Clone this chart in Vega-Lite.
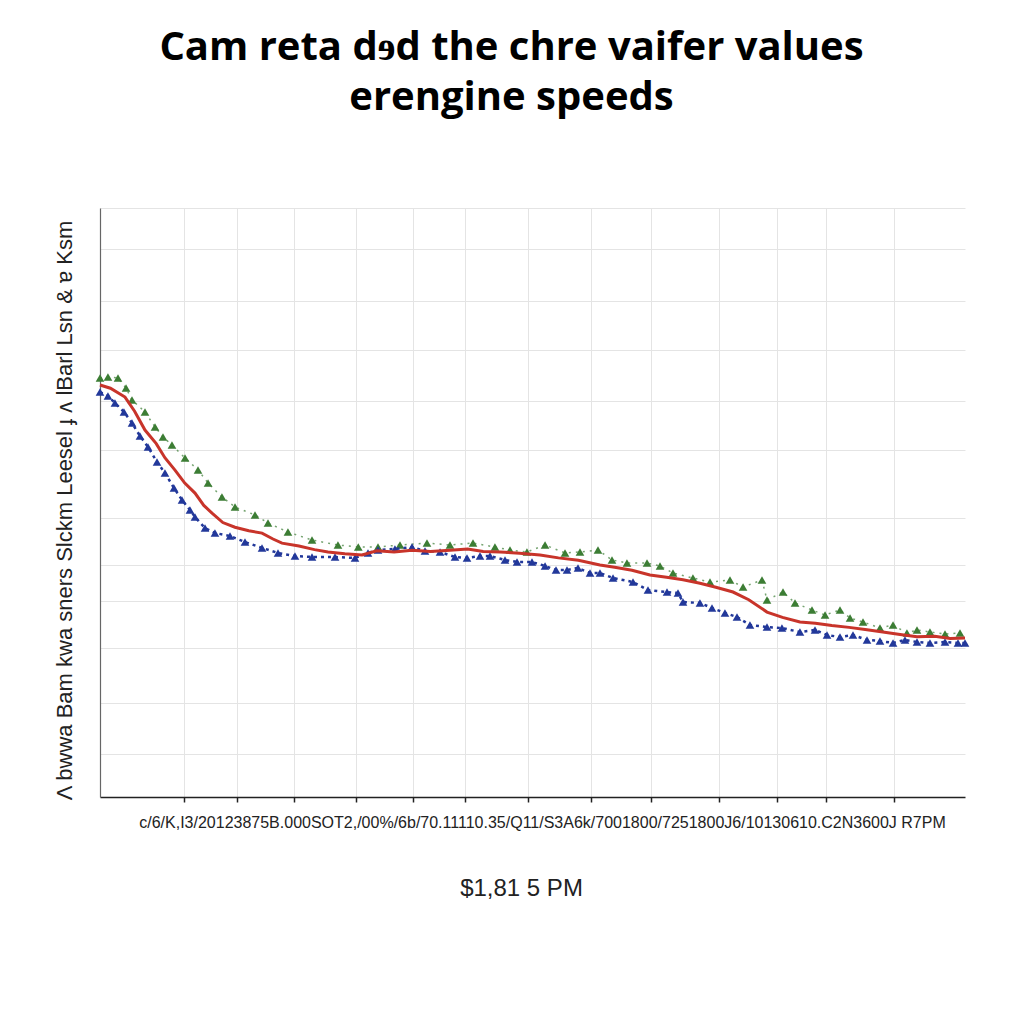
{
  "$schema": "https://vega.github.io/schema/vega-lite/v6.json",
  "width": 865,
  "height": 589,
  "autosize": {"type": "none"},
  "padding": {"left": 100, "top": 208, "right": 59, "bottom": 227},
  "background": "white",
  "title": {
    "text": ["Cam reta dɘd the chre vaifer values", "erengine speeds"],
    "font": "Open Sans",
    "fontWeight": "bold",
    "fontSize": 40,
    "lineHeight": 50,
    "color": "black",
    "anchor": "middle",
    "dx": -21,
    "offset": 89
  },
  "config": {
    "view": {"stroke": null},
    "axis": {"gridColor": "#e4e4e4", "gridWidth": 1}
  },
  "datasets": {
    "red": [
      {"rpm": 0, "v": 69.95}, {"rpm": 1.2, "v": 69.4}, {"rpm": 2.89, "v": 67.9}, {"rpm": 4.0, "v": 65.5}, {"rpm": 5.2, "v": 62.3},
      {"rpm": 6.5, "v": 60.0}, {"rpm": 7.5, "v": 57.6}, {"rpm": 8.67, "v": 55.5}, {"rpm": 9.8, "v": 53.3}, {"rpm": 10.98, "v": 51.6},
      {"rpm": 12.0, "v": 49.5}, {"rpm": 12.95, "v": 48.2}, {"rpm": 14.2, "v": 46.6}, {"rpm": 15.6, "v": 45.8}, {"rpm": 17.2, "v": 45.2},
      {"rpm": 18.73, "v": 44.8}, {"rpm": 20.0, "v": 43.8}, {"rpm": 21.04, "v": 43.1}, {"rpm": 23.0, "v": 42.6}, {"rpm": 24.8, "v": 42.0},
      {"rpm": 26.36, "v": 41.6}, {"rpm": 28.3, "v": 41.3}, {"rpm": 30.29, "v": 41.1}, {"rpm": 32.0, "v": 41.8}, {"rpm": 34.0, "v": 41.6},
      {"rpm": 36.07, "v": 41.9}, {"rpm": 38.2, "v": 41.7}, {"rpm": 40.46, "v": 41.9}, {"rpm": 42.5, "v": 42.1}, {"rpm": 44.3, "v": 41.7},
      {"rpm": 46.24, "v": 41.6}, {"rpm": 48.5, "v": 41.4}, {"rpm": 50.87, "v": 41.1}, {"rpm": 53.0, "v": 40.6}, {"rpm": 55.3, "v": 40.2},
      {"rpm": 57.8, "v": 39.4}, {"rpm": 59.5, "v": 39.0}, {"rpm": 61.5, "v": 38.5}, {"rpm": 63.58, "v": 37.7}, {"rpm": 65.5, "v": 37.3},
      {"rpm": 67.4, "v": 36.9}, {"rpm": 69.36, "v": 36.3}, {"rpm": 71.2, "v": 35.6}, {"rpm": 73.18, "v": 34.8}, {"rpm": 75.0, "v": 33.5},
      {"rpm": 77.11, "v": 31.4}, {"rpm": 78.9, "v": 30.5}, {"rpm": 80.92, "v": 29.7}, {"rpm": 82.7, "v": 29.5}, {"rpm": 84.6, "v": 29.1},
      {"rpm": 86.6, "v": 28.8}, {"rpm": 88.67, "v": 28.4}, {"rpm": 90.5, "v": 28.0}, {"rpm": 92.5, "v": 27.6}, {"rpm": 94.45, "v": 27.2},
      {"rpm": 96.5, "v": 27.3}, {"rpm": 98.3, "v": 26.9}, {"rpm": 100, "v": 27.0}
    ],
    "blue": [
      {"rpm": 0, "v": 68.76}, {"rpm": 0.92, "v": 68.08}, {"rpm": 1.73, "v": 66.89}, {"rpm": 2.77, "v": 65.37}, {"rpm": 3.7, "v": 63.5},
      {"rpm": 4.62, "v": 61.29}, {"rpm": 5.55, "v": 59.42}, {"rpm": 6.59, "v": 56.88}, {"rpm": 7.51, "v": 55.01}, {"rpm": 8.55, "v": 52.46},
      {"rpm": 9.48, "v": 50.42}, {"rpm": 10.4, "v": 48.73}, {"rpm": 10.98, "v": 47.54}, {"rpm": 12.14, "v": 45.67}, {"rpm": 13.29, "v": 44.82},
      {"rpm": 15.03, "v": 44.31}, {"rpm": 16.76, "v": 43.29}, {"rpm": 18.73, "v": 42.28}, {"rpm": 20.58, "v": 41.43}, {"rpm": 22.54, "v": 40.92},
      {"rpm": 24.51, "v": 40.75}, {"rpm": 27.17, "v": 40.75}, {"rpm": 29.48, "v": 40.58}, {"rpm": 30.98, "v": 41.43}, {"rpm": 32.14, "v": 41.94},
      {"rpm": 34.1, "v": 42.11}, {"rpm": 36.07, "v": 42.44}, {"rpm": 37.57, "v": 41.77}, {"rpm": 39.31, "v": 41.6}, {"rpm": 41.04, "v": 40.75},
      {"rpm": 42.43, "v": 40.58}, {"rpm": 43.93, "v": 40.92}, {"rpm": 45.09, "v": 40.92}, {"rpm": 46.82, "v": 40.24}, {"rpm": 48.21, "v": 39.9},
      {"rpm": 49.94, "v": 39.9}, {"rpm": 51.45, "v": 39.22}, {"rpm": 52.72, "v": 38.54}, {"rpm": 53.99, "v": 38.54}, {"rpm": 55.26, "v": 38.88},
      {"rpm": 56.65, "v": 38.03}, {"rpm": 57.8, "v": 38.03}, {"rpm": 59.31, "v": 37.18}, {"rpm": 61.62, "v": 36.5}, {"rpm": 63.35, "v": 35.14},
      {"rpm": 65.55, "v": 34.8}, {"rpm": 66.82, "v": 34.63}, {"rpm": 67.4, "v": 33.11}, {"rpm": 69.36, "v": 32.94}, {"rpm": 70.75, "v": 32.09},
      {"rpm": 72.25, "v": 31.24}, {"rpm": 73.64, "v": 30.56}, {"rpm": 75.14, "v": 29.2}, {"rpm": 77.11, "v": 28.86}, {"rpm": 78.84, "v": 28.69},
      {"rpm": 80.92, "v": 28.01}, {"rpm": 82.66, "v": 28.35}, {"rpm": 84.05, "v": 27.5}, {"rpm": 85.55, "v": 27.16}, {"rpm": 87.05, "v": 27.5},
      {"rpm": 88.67, "v": 26.66}, {"rpm": 90.17, "v": 26.49}, {"rpm": 91.68, "v": 26.15}, {"rpm": 93.06, "v": 26.66}, {"rpm": 94.45, "v": 26.32},
      {"rpm": 95.95, "v": 26.15}, {"rpm": 97.69, "v": 26.32}, {"rpm": 99.19, "v": 26.15}, {"rpm": 100, "v": 26.15}
    ],
    "green": [
      {"rpm": 0, "v": 71.14}, {"rpm": 0.92, "v": 71.31}, {"rpm": 2.08, "v": 71.14}, {"rpm": 3.01, "v": 69.44}, {"rpm": 3.7, "v": 67.4},
      {"rpm": 5.2, "v": 65.37}, {"rpm": 6.36, "v": 62.82}, {"rpm": 7.28, "v": 61.12}, {"rpm": 8.32, "v": 59.76}, {"rpm": 9.83, "v": 57.56},
      {"rpm": 11.33, "v": 55.52}, {"rpm": 12.49, "v": 53.31}, {"rpm": 14.1, "v": 50.93}, {"rpm": 15.61, "v": 49.24}, {"rpm": 17.92, "v": 47.88},
      {"rpm": 19.42, "v": 46.52}, {"rpm": 21.73, "v": 44.99}, {"rpm": 24.51, "v": 43.63}, {"rpm": 27.51, "v": 42.78}, {"rpm": 29.86, "v": 42.44},
      {"rpm": 32.14, "v": 42.44}, {"rpm": 34.68, "v": 42.78}, {"rpm": 37.8, "v": 43.12}, {"rpm": 40.46, "v": 42.78}, {"rpm": 43.12, "v": 43.12},
      {"rpm": 45.66, "v": 42.44}, {"rpm": 47.4, "v": 41.94}, {"rpm": 49.36, "v": 41.6}, {"rpm": 51.45, "v": 42.78}, {"rpm": 53.76, "v": 41.43},
      {"rpm": 55.49, "v": 41.6}, {"rpm": 57.57, "v": 41.94}, {"rpm": 59.19, "v": 40.24}, {"rpm": 60.92, "v": 39.73}, {"rpm": 63.24, "v": 39.73},
      {"rpm": 64.74, "v": 39.22}, {"rpm": 66.24, "v": 38.03}, {"rpm": 68.55, "v": 37.18}, {"rpm": 70.52, "v": 36.5}, {"rpm": 72.83, "v": 36.84},
      {"rpm": 74.34, "v": 35.65}, {"rpm": 76.53, "v": 36.84}, {"rpm": 77.11, "v": 33.45}, {"rpm": 78.96, "v": 34.8}, {"rpm": 80.35, "v": 32.94},
      {"rpm": 82.31, "v": 31.75}, {"rpm": 83.82, "v": 30.9}, {"rpm": 85.55, "v": 31.75}, {"rpm": 86.71, "v": 30.39}, {"rpm": 88.21, "v": 29.71},
      {"rpm": 90.17, "v": 28.69}, {"rpm": 91.68, "v": 29.2}, {"rpm": 93.29, "v": 27.84}, {"rpm": 94.45, "v": 28.35}, {"rpm": 95.95, "v": 28.01},
      {"rpm": 97.69, "v": 27.67}, {"rpm": 99.42, "v": 27.84}
    ]
  },
  "encoding": {
    "x": {
      "field": "rpm",
      "type": "quantitative",
      "scale": {"domain": [0, 100], "nice": false, "zero": false},
      "axis": {
        "values": [9.71, 15.84, 22.43, 29.6, 36.18, 42.2, 49.48, 56.76, 63.7, 71.56, 78.27, 83.93, 91.79],
        "grid": true,
        "domainColor": "#222222",
        "domainWidth": 1.5,
        "tickColor": "#222222",
        "tickSize": 5,
        "tickWidth": 1.5,
        "labelExpr": "abs(datum.value - 49.48) < 0.01 ? 'c/6/K,I3/20123875B.000SOT2,/00%/6b/70.11110.35/Q11/S3A6k/7001800/7251800J6/10130610.C2N3600J R7PM' : ''",
        "labelFont": "Liberation Sans",
        "labelFontSize": 16,
        "labelColor": "#222222",
        "labelPadding": 12,
        "labelOffset": 14,
        "labelLimit": 0,
        "labelOverlap": false,
        "labelBound": false,
        "labelFlush": false,
        "title": "$1,81 5 PM",
        "titleFont": "Liberation Sans",
        "titleFontSize": 24,
        "titleFontWeight": "normal",
        "titleColor": "#222222",
        "titlePadding": 46,
        "titleX": 421
      }
    },
    "y": {
      "field": "v",
      "type": "quantitative",
      "scale": {"domain": [0, 100], "nice": false, "zero": false},
      "axis": {
        "values": [100, 93.04, 84.21, 75.89, 67.23, 58.91, 47.37, 39.39, 33.28, 25.3, 15.96, 7.3],
        "grid": true,
        "labels": false,
        "ticks": false,
        "domainColor": "#666666",
        "domainWidth": 1.2,
        "title": "Λ  bwwa  Bam kwa sners Slckm  Leesel  ɟ ʌ lBarl Lsn & ɐ Ksm",
        "titleFont": "Liberation Sans",
        "titleFontSize": 22,
        "titleFontWeight": "normal",
        "titleColor": "#222222",
        "titlePadding": 24,
        "titleY": 302,
        "titleLimit": 0
      }
    }
  },
  "layer": [
    {
      "data": {"name": "green"},
      "mark": {"type": "line", "color": "#3c7d34", "strokeWidth": 1.5, "strokeDash": [2, 5], "opacity": 0.7}
    },
    {
      "data": {"name": "green"},
      "mark": {"type": "point", "shape": "triangle-up", "filled": true, "color": "#3c7d34", "size": 75, "opacity": 1}
    },
    {
      "data": {"name": "blue"},
      "mark": {"type": "line", "color": "#22389a", "strokeWidth": 2.5, "strokeDash": [3, 4]}
    },
    {
      "data": {"name": "blue"},
      "mark": {"type": "point", "shape": "triangle-up", "filled": true, "color": "#22389a", "size": 75, "opacity": 1}
    },
    {
      "data": {"name": "red"},
      "mark": {"type": "line", "color": "#c8342a", "strokeWidth": 3}
    }
  ]
}
